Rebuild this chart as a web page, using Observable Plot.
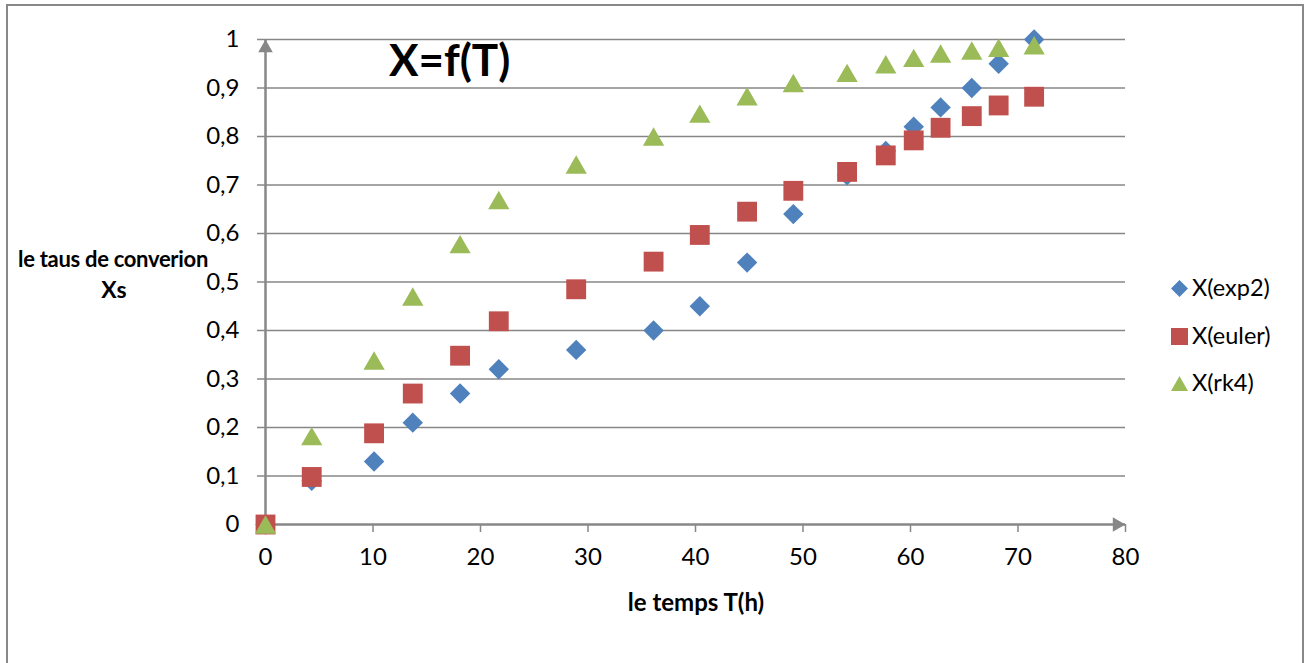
<!DOCTYPE html>
<html>
<head>
<meta charset="utf-8">
<script src="https://cdn.jsdelivr.net/npm/d3@7"></script>
<script src="https://cdn.jsdelivr.net/npm/@observablehq/plot@0.6"></script>
<style>
  html, body { margin: 0; padding: 0; background: #fff; overflow: hidden; }
  #wrap { position: relative; width: 1311px; height: 663px; font-family: Lato, "Open Sans", sans-serif; color: #000; }
  #frame { position: absolute; left: 6px; top: 4px; width: 1298px; height: 700px; border: 2px solid #888; box-sizing: border-box; }
  #chart { position: absolute; left: 0; top: 0; }
  .lbl { position: absolute; white-space: nowrap; line-height: 1; }
  .legrow { position: absolute; left: 1171px; display: flex; align-items: center; font-size: 23.5px; line-height: 1; }
  .legrow svg { margin-right: 4px; }
</style>
</head>
<body>
<div id="wrap">
  <div id="frame"></div>
  <div id="chart"></div>
  <div class="lbl" style="left:389px; top:37px; font-size:44px; font-weight:bold;">X=f(T)</div>
  <div class="lbl" style="left:14px; width:194px; top:248px; font-size:22px; letter-spacing:-0.3px; font-weight:bold; text-align:right;">le taus de converion</div>
  <div class="lbl" style="left:14px; width:200px; top:278px; font-size:23px; font-weight:bold; text-align:center;">Xs</div>
  <div class="lbl" style="left:495px; width:402px; top:590px; font-size:24px; font-weight:bold; text-align:center;">le temps T(h)</div>
  <div id="legend"></div>
</div>
<script>
// ---- data ----
const T     = [0, 4.3, 10.1, 13.7, 18.1, 21.7, 28.9, 36.1, 40.4, 44.8, 49.1, 54.1, 57.7, 60.3, 62.8, 65.7, 68.2, 71.5];
const exp2  = [0, 0.09, 0.13, 0.21, 0.27, 0.32, 0.36, 0.40, 0.45, 0.54, 0.64, 0.72, 0.77, 0.82, 0.86, 0.90, 0.95, 1.0];
const euler = [0, 0.098, 0.188, 0.27, 0.348, 0.419, 0.485, 0.542, 0.597, 0.645, 0.688, 0.727, 0.761, 0.792, 0.818, 0.842, 0.864, 0.882];
const rk4   = [0, 0.182, 0.338, 0.47, 0.578, 0.669, 0.742, 0.80, 0.847, 0.883, 0.91, 0.931, 0.949, 0.962, 0.971, 0.977, 0.983, 0.988];
const seriesNames = ["X(exp2)", "X(euler)", "X(rk4)"];
const xTicks = [0, 10, 20, 30, 40, 50, 60, 70, 80];
const yTicks = [0, 0.1, 0.2, 0.3, 0.4, 0.5, 0.6, 0.7, 0.8, 0.9, 1];

const colors = {"X(exp2)": "#4F81BD", "X(euler)": "#C0504D", "X(rk4)": "#9BBB59"};
const gridColor = "#878787";

const rows = (ys, name) => T.map((t, i) => ({T: t, X: ys[i], s: name}));
const dExp = rows(exp2, seriesNames[0]);
const dEul = rows(euler, seriesNames[1]);
const dRk  = rows(rk4, seriesNames[2]);

const fmt = d => String(d).replace(".", ",");
const xMax = xTicks[xTicks.length - 1];
const yMax = yTicks[yTicks.length - 1];

const chart = Plot.plot({
  width: 1311,
  height: 663,
  marginLeft: 265,
  marginRight: 186,
  marginTop: 39,
  marginBottom: 139,
  x: {domain: [0, xMax]},
  y: {domain: [0, yMax]},
  style: {fontFamily: "Lato, 'Open Sans', sans-serif", background: "transparent", color: "#000", overflow: "visible"},
  marks: [
    Plot.ruleY(yTicks.slice(1), {x1: 0, x2: xMax, stroke: gridColor, strokeWidth: 1.5}),
    Plot.axisY({ticks: yTicks, tickSize: 8, tickPadding: 18, stroke: gridColor, strokeWidth: 1.5, fill: "#000", fontSize: 24, tickFormat: fmt, label: null}),
    Plot.axisX({ticks: xTicks, tickSize: 8, tickPadding: 15, stroke: gridColor, strokeWidth: 1.5, fill: "#000", fontSize: 24, tickFormat: fmt, label: null}),
    Plot.ruleX([0], {y1: 0, y2: yMax, stroke: gridColor, strokeWidth: 2.5}),
    Plot.ruleY([0], {x1: 0, x2: xMax, stroke: gridColor, strokeWidth: 2.5}),
    Plot.dot([{x: 0, y: yMax}], {x: "x", y: "y", symbol: "triangle", r: 5.4, fill: gridColor, stroke: "none", dy: 8.5}),
    Plot.dot([{x: xMax, y: 0}], {x: "x", y: "y", symbol: "triangle", r: 5.4, fill: gridColor, stroke: "none", rotate: 90, dx: -8.5}),
    Plot.dot(dExp, {x: "T", y: "X", symbol: "diamond2", r: 9.2, fill: colors["X(exp2)"], stroke: "none"}),
    Plot.dot(dEul, {x: "T", y: "X", symbol: "square", r: 11.2, fill: colors["X(euler)"], stroke: "none"}),
    Plot.dot(dRk,  {x: "T", y: "X", symbol: "triangle", r: 7.9, fill: colors["X(rk4)"], stroke: "none", dy: 3})
  ]
});
document.getElementById("chart").appendChild(chart);

// ---- legend ----
const legendY = [288, 336, 383];
const legendShapes = {
  "X(exp2)": '<polygon points="8,0 16,8 8,16 0,8"/>',
  "X(euler)": '<rect x="0" y="0" width="16" height="16"/>',
  "X(rk4)": '<polygon points="8,1 16,15 0,15"/>'
};
const leg = document.getElementById("legend");
seriesNames.forEach((name, i) => {
  const row = document.createElement("div");
  row.className = "legrow";
  row.style.top = (legendY[i] - 12) + "px";
  row.style.height = "24px";
  row.innerHTML = `<svg width="17" height="17" viewBox="0 0 16 16"><g fill="${colors[name]}">${legendShapes[name]}</g></svg><span>${name}</span>`;
  leg.appendChild(row);
});
</script>
</body>
</html>
